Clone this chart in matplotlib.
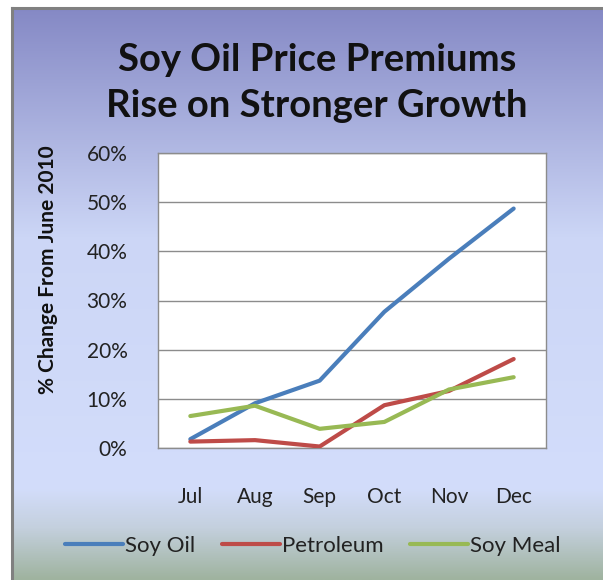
import matplotlib
matplotlib.use("Agg")
import matplotlib.pyplot as plt
from matplotlib.colors import LinearSegmentedColormap
import numpy as np

months = ["Jul", "Aug", "Sep", "Oct", "Nov", "Dec"]
soy_oil = [1.8, 9.1, 13.7, 27.7, 38.5, 48.7]
petroleum = [1.3, 1.6, 0.3, 8.7, 11.6, 18.1]
soy_meal = [6.5, 8.6, 3.9, 5.3, 11.9, 14.4]
y_ticks = [0, 10, 20, 30, 40, 50, 60]

plt.rcParams["font.family"] = ["Lato", "DejaVu Sans"]

W, H = 603, 580
fig = plt.figure(figsize=(W / 100, H / 100), dpi=100)

# background gradient panel (chart area starts at x=12, y=8)
x0, y0 = 12 / W, 8 / H
bg = fig.add_axes([x0, 0, 1 - x0, 1 - y0])
bg.set_axis_off()
grad = LinearSegmentedColormap.from_list(
    "bg", [(0.0, "#9fb39f"), (0.09, "#c4d0de"), (0.16, "#d3ddfb"),
           (0.6, "#ccd6f6"), (1.0, "#8589c5")])
bg.imshow(np.linspace(0, 1, 256).reshape(-1, 1), aspect="auto", cmap=grad,
          origin="lower", extent=[0, 1, 0, 1])
bg.set_xlim(0, 1); bg.set_ylim(0, 1)
fig.add_artist(plt.Line2D([x0, x0], [0, 1 - y0], color="#808080", lw=2.2,
                          transform=fig.transFigure))
fig.add_artist(plt.Line2D([x0, 1], [1 - y0, 1 - y0], color="#808080", lw=2.2,
                          transform=fig.transFigure))

# plot area
left, right, top, bottom = 158, 546, 153, 448
ax = fig.add_axes([left / W, 1 - bottom / H, (right - left) / W, (bottom - top) / H])
ax.set_facecolor("white")
x = np.arange(len(months))
ax.plot(x, soy_oil, color="#4a7ebb", lw=3.0, solid_capstyle="round", label="Soy Oil", zorder=3)
ax.plot(x, petroleum, color="#be4b48", lw=3.0, solid_capstyle="round", label="Petroleum", zorder=3)
ax.plot(x, soy_meal, color="#98b954", lw=3.0, solid_capstyle="round", label="Soy Meal", zorder=3)
ax.set_xlim(-0.5, len(months) - 0.5)
ax.set_ylim(0, 60)
ax.set_yticks(y_ticks)
ax.set_yticklabels([f"{v}%" for v in y_ticks], fontsize=15, color="#222222")
ax.set_xticks(x)
ax.set_xticklabels(months, fontsize=15, color="#222222")
ax.tick_params(length=0)
ax.tick_params(axis="y", pad=22)
ax.tick_params(axis="x", pad=28)
ax.yaxis.grid(True, color="#8c8c8c", lw=1.0)
ax.set_axisbelow(True)
for s in ax.spines.values():
    s.set_color("#8c8c8c")
    s.set_linewidth(1.0)

fig.text(48 / W, 1 - 270 / H, "% Change From June 2010", rotation=90,
         ha="center", va="center", fontsize=15, fontweight="bold", color="#111111")
fig.text(317 / W, 1 - 83 / H, "Soy Oil Price Premiums\nRise on Stronger Growth",
         ha="center", va="center", fontsize=27.5, fontweight="bold", color="#111111",
         linespacing=1.45)

leg = fig.legend(loc="center", bbox_to_anchor=(313 / W, 1 - 546 / H), ncol=3,
                 frameon=False, fontsize=16, handlelength=2.6, handletextpad=0.1,
                 columnspacing=1.2)
for t in leg.get_texts():
    t.set_color("#222222")

fig.savefig("out.png", dpi=100)
